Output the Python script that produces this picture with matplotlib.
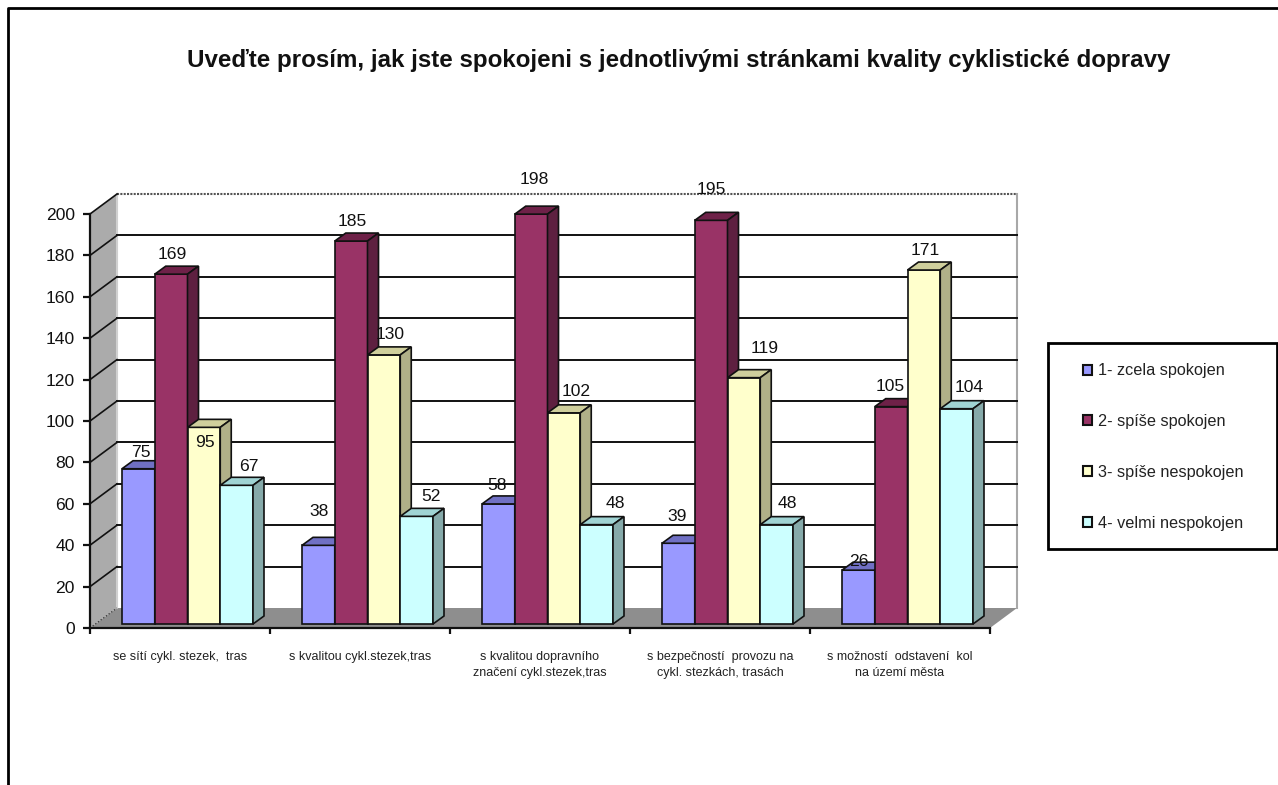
import matplotlib
matplotlib.use("Agg")
import matplotlib.pyplot as plt
from matplotlib.patches import Patch, Polygon, Rectangle
from matplotlib.lines import Line2D

plt.rcParams["font.family"] = ["Liberation Sans", "DejaVu Sans"]

W, H = 1278, 785
TITLE = "Uveďte prosím, jak jste spokojeni s jednotlivými stránkami kvality cyklistické dopravy"
CATEGORIES = [
    "se sítí cykl. stezek,  tras",
    "s kvalitou cykl.stezek,tras",
    "s kvalitou dopravního\nznačení cykl.stezek,tras",
    "s bezpečností  provozu na\ncykl. stezkách, trasách",
    "s možností  odstavení  kol\nna území města",
]
SERIES = ["1- zcela spokojen", "2- spíše spokojen", "3- spíše nespokojen", "4- velmi nespokojen"]
zcela_spokojen = [75, 38, 58, 39, 26]
spise_spokojen = [169, 185, 198, 195, 105]
spise_nespokojen = [95, 130, 102, 119, 171]
velmi_nespokojen = [67, 52, 48, 48, 104]
VALUES = [zcela_spokojen, spise_spokojen, spise_nespokojen, velmi_nespokojen]
Y_TICKS = list(range(0, 201, 20))

FACE = ["#9999FF", "#993366", "#FFFFCC", "#CCFFFF"]
TOP = ["#7070C4", "#6E2148", "#CFCF9C", "#A0D4D4"]
SIDE = ["#5F5FA8", "#5E2040", "#B0B088", "#86AAAA"]

# hand moved labels in the original, px offset from the bar top centre (per series, per category)
LABEL_DX = [[2, 1, -1, -1, 0], [1, 1, 3, 0, -1], [1, 6, 12, 21, 1], [12, 14, 19, 11, 13]]
LABEL_DY = [[16, 34, 18, 27, 9], [20, 20, 35, 31, 20], [-15, 20, 21, 29, 20], [19, 20, 21, 21, 21]]

fig = plt.figure(figsize=(W / 100, H / 100), dpi=100)
# front plane of the 3d box
L, R, B, T = 90, 990, 628, 214
ax = fig.add_axes([L / W, 1 - B / H, (R - L) / W, (B - T) / H])
ax.set_xlim(0, 5)
ax.set_ylim(0, 200)
ax.patch.set_visible(False)

sx = (R - L) / 5
sy = (B - T) / 200


def off(x, y, dx, dy):
    # shift a data point by screen pixels (dy is up)
    return (x + dx / sx, y + dy / sy)


WALL_DX, WALL_DY = 27, 20
corners = [(0, 0), (5, 0), (5, 200), (0, 200)]
back = [off(x, y, WALL_DX, WALL_DY) for x, y in corners]
ax.add_patch(Polygon(back, fc="white", ec="none", clip_on=False, zorder=1))
ax.add_patch(Polygon([(0, 0), off(0, 0, WALL_DX, WALL_DY), off(0, 200, WALL_DX, WALL_DY), (0, 200)],
                     fc="#ABABAB", ec="none", clip_on=False, zorder=1))
ax.add_patch(Polygon([(0, 0), (5, 0), off(5, 0, WALL_DX, WALL_DY), off(0, 0, WALL_DX, WALL_DY)],
                     fc="#8E8E8E", ec="none", clip_on=False, zorder=1))
ax.plot(*zip(off(5, 0, WALL_DX, WALL_DY), off(5, 200, WALL_DX, WALL_DY)), color="#A8A8A8", lw=1.5, clip_on=False, zorder=2)
ax.plot(*zip(off(0, 0, WALL_DX, WALL_DY), off(0, 200, WALL_DX, WALL_DY)), color="#D0D0D0", lw=1.5, clip_on=False, zorder=2)
ax.plot(*zip(off(0, 200, WALL_DX, WALL_DY), off(5, 200, WALL_DX, WALL_DY)), color="#555555", lw=1.5, ls=(0, (1, 0.6)), clip_on=False, zorder=2)
for v in Y_TICKS[1:-1]:
    ax.plot(*zip(off(0, v, WALL_DX, WALL_DY), off(5, v, WALL_DX, WALL_DY)), color="#111111", lw=1.4, clip_on=False, zorder=2)
for v in Y_TICKS[1:]:
    ax.plot(*zip((0, v), off(0, v, WALL_DX, WALL_DY)), color="#111111", lw=1.2, clip_on=False, zorder=2)
ax.plot(*zip((0, 0), off(0, 0, WALL_DX, WALL_DY)), color="#333333", lw=0.9, ls=":", clip_on=False, zorder=2)

BAR_DX, BAR_DY = 11, 8
BASE = 4 / sy
BAR_W = 32.75 / sx
START = 32 / sx

for s, vals in enumerate(VALUES):
    for c, v in enumerate(vals):
        x0 = c + START + s * BAR_W
        x1 = x0 + BAR_W
        top = BASE + v
        z = 3 + s * 0.1
        ax.bar(x0, v, BAR_W, bottom=BASE, align="edge", color=FACE[s], edgecolor="#111111", lw=1.2, zorder=z, clip_on=False)
        ax.add_patch(Polygon([(x0, top), (x1, top), off(x1, top, BAR_DX, BAR_DY), off(x0, top, BAR_DX, BAR_DY)],
                             fc=TOP[s], ec="#111111", lw=1.2, zorder=z, clip_on=False))
        ax.add_patch(Polygon([(x1, BASE), off(x1, BASE, BAR_DX, BAR_DY), off(x1, top, BAR_DX, BAR_DY), (x1, top)],
                             fc=SIDE[s], ec="#111111", lw=1.2, zorder=z, clip_on=False))
for s, vals in enumerate(VALUES):
    for c, v in enumerate(vals):
        cx = c + START + (s + 0.5) * BAR_W
        lx, ly = off(cx, BASE + v, LABEL_DX[s][c], LABEL_DY[s][c])
        ax.text(lx, ly, str(v), ha="center", va="center", fontsize=12.6, color="#111111", zorder=5, clip_on=False)

for sp in ("top", "right"):
    ax.spines[sp].set_visible(False)
for sp in ("left", "bottom"):
    ax.spines[sp].set_linewidth(1.6)
    ax.spines[sp].set_color("#111111")
    ax.spines[sp].set_zorder(4)

ax.set_yticks(Y_TICKS)
ax.tick_params(axis="y", length=5, width=1.6, color="#111111", labelsize=12.6, labelcolor="#111111", pad=6)
ax.set_xticks(range(6))
ax.set_xticklabels([])
ax.tick_params(axis="x", which="major", length=4, width=1.6, color="#111111")
ax.set_xticks([c + 0.5 for c in range(5)], minor=True)
ax.set_xticklabels(CATEGORIES, minor=True, fontsize=9, color="#222222", linespacing=1.45)
ax.tick_params(axis="x", which="minor", length=0, pad=16.5)

fig.text(679 / W, 1 - 60 / H, TITLE, ha="center", va="center", fontsize=17.4, fontweight="bold", color="#111111")

# chart border, runs off the bottom of the picture
fig.add_artist(Line2D([8 / W, 8 / W, 1], [0, 1 - 8 / H, 1 - 8 / H], color="black", lw=2))

handles = [Patch(facecolor=c, edgecolor="#111111", lw=1.5, label=n) for c, n in zip(FACE, SERIES)]
leg_x0, leg_x1, leg_y0, leg_y1 = 1048, 1277, 343, 549
fig.add_artist(Rectangle((leg_x0 / W, 1 - leg_y1 / H), (leg_x1 - leg_x0) / W, (leg_y1 - leg_y0) / H,
                         transform=fig.transFigure, fc="white", ec="black", lw=2))
leg = fig.legend(handles=handles, loc="center left", bbox_to_anchor=(1083 / W, 1 - 447 / H), frameon=False,
                 fontsize=11.7, labelspacing=2.2, handlelength=0.55, handleheight=0.55, handletextpad=0.35,
                 borderpad=0, borderaxespad=0, labelcolor="#222222")

fig.savefig("out.png", dpi=100)
